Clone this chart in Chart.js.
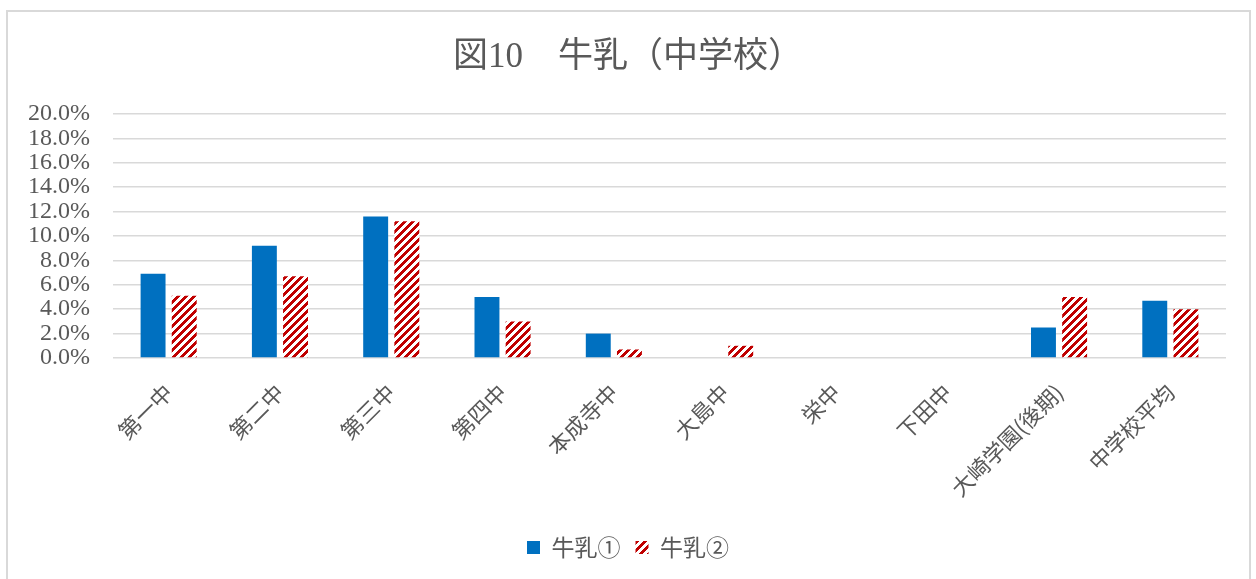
<!DOCTYPE html>
<html>
<head>
<meta charset="utf-8">
<script src="https://cdn.jsdelivr.net/npm/chart.js@4/dist/chart.umd.min.js"></script>
<style>
  html, body { margin: 0; padding: 0; background: #ffffff; overflow: hidden; }
  #wrap { position: relative; width: 1256px; height: 579px; }
  #frame { position: absolute; left: 6px; top: 10px; width: 1245px; height: 620px;
           border: 2px solid #d9d9d9; box-sizing: border-box; pointer-events: none; }
  canvas { position: absolute; left: 0; top: 0; }
</style>
</head>
<body>
<div id="wrap">
  <canvas id="c" width="1256" height="579"></canvas>
  <div id="frame"></div>
</div>
<script>
const titleText = '図10　牛乳（中学校）';
const categories = ['第一中', '第二中', '第三中', '第四中', '本成寺中', '大島中', '栄中', '下田中', '大崎学園(後期)', '中学校平均'];
const seriesNames = ['牛乳①', '牛乳②'];
const milk1 = [6.9, 9.2, 11.6, 5.0, 2.0, 0, 0, 0, 2.5, 4.7];
const milk2 = [5.1, 6.7, 11.2, 3.0, 0.7, 1.0, 0, 0, 5.0, 4.0];
const yMin = 0, yMax = 20, yStep = 2;

const TEXT = '#595959';
const SERIF = '"Liberation Serif", "Noto Sans CJK JP", serif';
const CJK = '"Noto Sans CJK JP", sans-serif';

function makeHatch() {
  const t = document.createElement('canvas');
  t.width = 8; t.height = 8;
  const g = t.getContext('2d');
  g.fillStyle = '#ffffff';
  g.fillRect(0, 0, 8, 8);
  g.fillStyle = '#c00000';
  for (let y = 0; y < 8; y++) {
    for (let x = 0; x < 8; x++) {
      if (((x + y) % 8) < 4) g.fillRect(x, y, 1, 1);
    }
  }
  return document.getElementById('c').getContext('2d').createPattern(t, 'repeat');
}
const hatch = makeHatch();

new Chart(document.getElementById('c'), {
  type: 'bar',
  data: {
    labels: categories,
    datasets: [
      { label: seriesNames[0], data: milk1, backgroundColor: '#0070c0', borderWidth: 0,
        categoryPercentage: 0.56, barPercentage: 0.8 },
      { label: seriesNames[1], data: milk2, backgroundColor: hatch, borderWidth: 0,
        categoryPercentage: 0.56, barPercentage: 0.8 }
    ]
  },
  options: {
    responsive: false,
    animation: false,
    events: [],
    layout: { padding: { left: 7, top: 10, right: 7, bottom: 10 } },
    plugins: {
      tooltip: { enabled: false },
      title: {
        display: true,
        text: titleText,
        color: TEXT,
        font: { family: SERIF, size: 35, weight: 'normal', lineHeight: 1.2 },
        padding: { top: 27, bottom: 35 }
      },
      legend: {
        display: true,
        position: 'bottom',
        labels: {
          color: TEXT,
          font: { family: CJK, size: 23 },
          boxWidth: 13,
          boxHeight: 13,
          padding: 15
        }
      }
    },
    scales: {
      x: {
        grid: { display: false },
        border: { display: false },
        ticks: {
          color: TEXT,
          font: { family: CJK, size: 22 },
          maxRotation: 45,
          minRotation: 45,
          autoSkip: false,
          padding: 13
        },
        afterFit: (s) => { s.height = 163; }
      },
      y: {
        min: yMin,
        max: yMax,
        border: { display: false },
        grid: { color: '#d9d9d9', lineWidth: 1.5, drawTicks: false },
        ticks: {
          stepSize: yStep,
          autoSkip: false,
          color: TEXT,
          font: { family: SERIF, size: 24, lineHeight: 1 },
          padding: 23,
          callback: (v) => Number(v).toFixed(1) + '%'
        },
        afterFit: (s) => { s.width = 106; }
      },
      ySpace: {
        position: 'right',
        display: true,
        min: yMin,
        max: yMax,
        border: { display: false },
        grid: { display: false, drawOnChartArea: false },
        ticks: { display: false },
        afterFit: (s) => { s.width = 23; }
      }
    }
  }
});
</script>
</body>
</html>
